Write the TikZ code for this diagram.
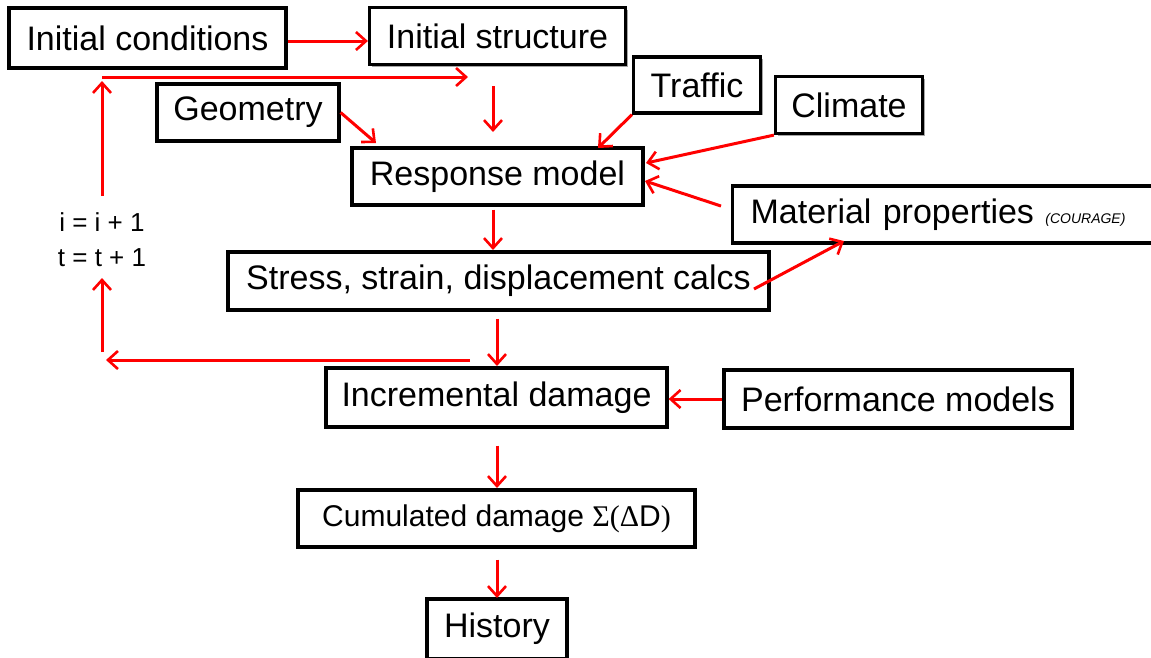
\documentclass[tikz,border=0pt]{standalone}
\usepackage{fontspec}
\setmainfont{Liberation Sans}
\newfontfamily\symserif{Liberation Serif}
\usetikzlibrary{arrows.meta,shadows}
\begin{document}
\begin{tikzpicture}[x=1pt,y=-1pt,
  box/.style={draw=black,line width=3.2pt,fill=white,inner sep=0pt,
    font=\fontsize{34}{34}\selectfont,
    drop shadow={shadow xshift=2.4pt,shadow yshift=-2.4pt,fill=gray!70,opacity=1}},
  arr/.style={draw=red,line width=3pt,-{Straight Barb[length=10pt,width=18pt,line width=2.6pt]}},
  lbl/.style={font=\fontsize{26}{26}\selectfont,inner sep=0pt}]
\useasboundingbox (0,0) rectangle (1151,657);
\fill[white] (0,0) rectangle (1151,657);
% boxes
\node[box,minimum width=277pt,minimum height=60pt] (ic) at (147.5,38) {Initial conditions};
\node[box,minimum width=256pt,minimum height=57pt] (is) at (497.5,36) {Initial structure};
\node[box,minimum width=127pt,minimum height=56pt] (tr) at (697,85) {Traffic};
\node[box,minimum width=147pt,minimum height=57pt] (cl) at (849,105) {Climate};
\node[box,minimum width=182pt,minimum height=57pt] (ge) at (248,112.5) {Geometry};
\node[box,minimum width=291pt,minimum height=57pt] (rm) at (497.5,176.5) {Response model};
\node[box,minimum height=57pt,anchor=west,text width=404pt,inner xsep=18pt,align=left] (mp) at (731,214.5) {Material properties {\fontsize{14}{14}\selectfont\itshape (COURAGE)}};
\node[box,minimum width=541pt,minimum height=58pt] (ss) at (498.5,281) {Stress, strain, displacement calcs};
\node[box,minimum width=341pt,minimum height=59pt] (id) at (496.5,397.5) {Incremental damage};
\node[box,minimum width=348pt,minimum height=58pt] (pm) at (898,399) {Performance models};
\node[box,minimum width=397pt,minimum height=57pt,font=\fontsize{30}{30}\selectfont] (cd) at (496.5,518.5) {Cumulated damage {\symserif Σ(Δ}D{\symserif )}};
\node[box,minimum width=140pt,minimum height=60pt] (hi) at (497,629) {History};
% loop labels
\node[lbl] (l1) at (102,222) {i = i + 1};
\node[lbl] (l2) at (102,258) {t = t + 1};
% loop coordinates
\coordinate (topL) at (102,77);
\coordinate (topR) at (468,77);
\coordinate (botR) at (470,360);
\coordinate (botL) at (106,360);
\coordinate (dn1s) at (493,86);
\coordinate (dn1e) at (493,132);
% connectors
\draw[arr] (ic.east |- 0,41) -- (is.west |- 0,41);
\draw[arr] (topL) -- (topR);
\draw[arr] (l1.north |- 0,196) -- (topL |- 0,81);
\draw[arr] (dn1s) -- (dn1e);
\draw[arr] (ge.east) -- (376,143);
\draw[arr] (tr.south west) -- (598,148);
\draw[arr] (cl.south west) -- (646,163);
\draw[arr] (721,206) -- (645,181);
\draw[arr] (rm.south -| 493,0) ++(0,3) -- (493,250);
\draw[arr] (754,289) -- (844,241);
\draw[arr] (ss.south -| 497,0) ++(0,7) -- (497,366);
\draw[arr] (botR) -- (botL);
\draw[arr] (102,352) -- (l2.south |- 0,278);
\draw[arr] (pm.west) -- (id.east |- pm.west);
\draw[arr] (id.south -| 497,0) ++(0,17) -- (497,488);
\draw[arr] (cd.south -| 497,0) ++(0,11) -- (497,598);
\end{tikzpicture}
\end{document}
